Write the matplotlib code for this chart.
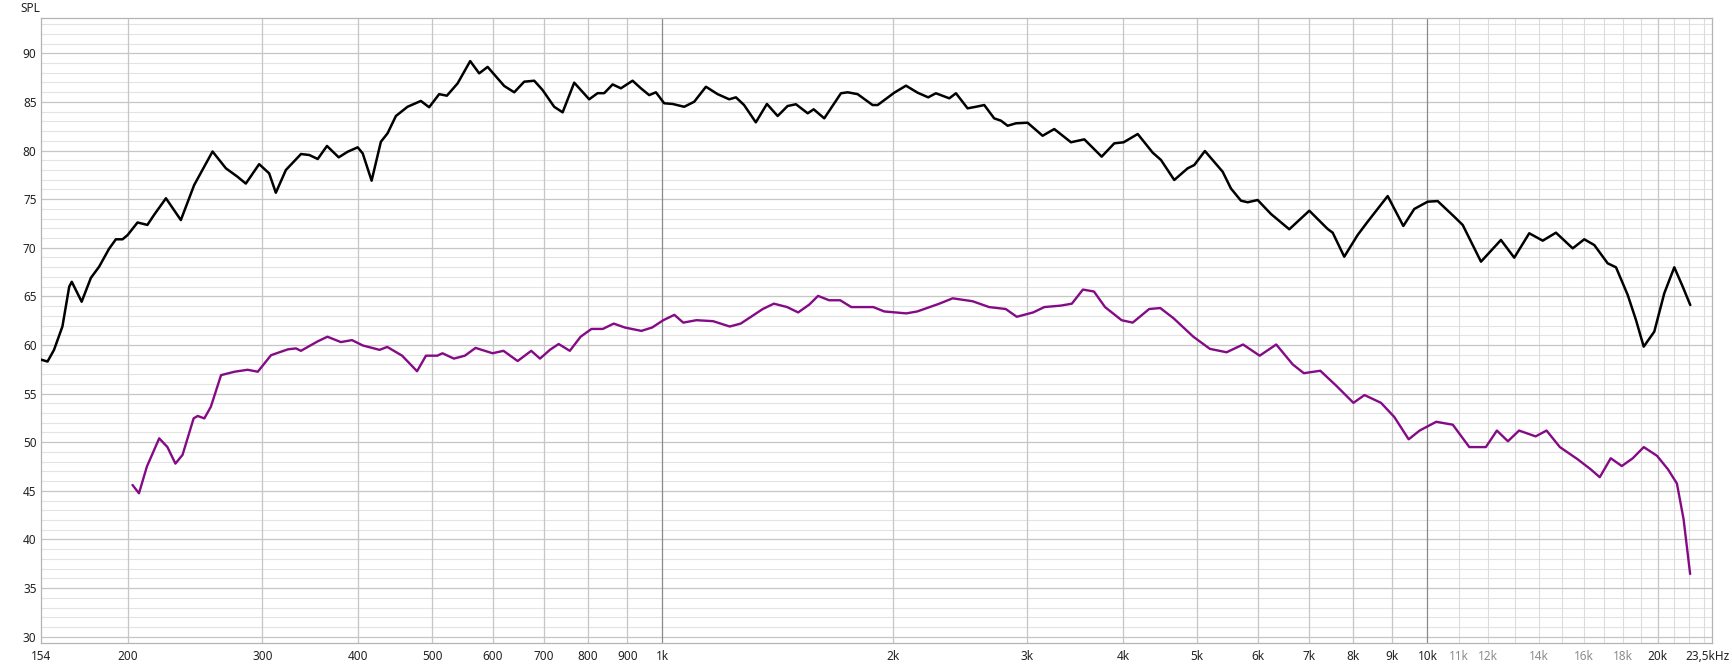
import matplotlib
matplotlib.use('Agg')
import matplotlib.pyplot as plt
import matplotlib.transforms as mtransforms

# Data (frequency in Hz, SPL in dB)
black_freq = [154, 157.2, 160.3, 164.4, 167.8, 169.1, 174.2, 179.1, 183.6, 189.2,
              193.1, 197, 200, 206.1, 212.3, 216.7, 224.5, 234.8, 244.4, 258.3,
              268.9, 278.5, 285.5, 297.2, 306.3, 312.5, 322.1, 337.1, 345.6, 354.5,
              364.5, 377.6, 388, 399.8, 405.9, 416.9, 428.7, 437.4, 448.5, 464.5,
              483.5, 495.7, 510.9, 522.9, 540, 560.9, 576.3, 591.1, 621.4, 640.4,
              659.9, 680.1, 697.5, 722.2, 740.8, 767.1, 802.5, 823.1, 839.6, 861.1,
              882.8, 914.4, 937.6, 961.3, 980.9, 1005.7, 1031.4, 1068.1, 1100.8, 1140.3,
              1181, 1223, 1248, 1279, 1325, 1370, 1415, 1458, 1495, 1549,
              1577, 1628, 1712, 1747, 1800, 1883, 1912, 2010, 2082, 2156,
              2226, 2278, 2372, 2420, 2506, 2570, 2635, 2715, 2771, 2827,
              2899, 3002, 3141, 3253, 3421, 3561, 3752, 3897, 4009, 4182,
              4375, 4485, 4668, 4860, 4958, 5119, 5400, 5536, 5706, 5823,
              6000, 6246, 6599, 7009, 7407, 7520, 7786, 8106, 8354, 8874,
              9301, 9613, 10008, 10314, 10843, 11122, 11750, 12477, 12987, 13587,
              14149, 14724, 15486, 16034, 16525, 17204, 17641, 18274, 18734, 19175,
              19794, 20400, 21024, 21564, 22060]
black_spl = [58.5, 58.3, 59.5, 61.9, 66.0, 66.5, 64.45, 66.9, 68.05, 69.9,
             70.87, 70.87, 71.3, 72.6, 72.35, 73.4, 75.09, 72.85, 76.45, 79.9,
             78.17, 77.3, 76.6, 78.6, 77.65, 75.66, 78.0, 79.64, 79.54, 79.13,
             80.47, 79.3, 79.88, 80.33, 79.7, 76.9, 80.9, 81.77, 83.55, 84.5,
             85.1, 84.45, 85.8, 85.64, 86.9, 89.2, 87.94, 88.6, 86.64, 85.99,
             87.08, 87.18, 86.22, 84.5, 83.93, 86.98, 85.27, 85.9, 85.9, 86.8,
             86.4, 87.18, 86.4, 85.7, 85.99, 84.86, 84.79, 84.5, 85.02, 86.56,
             85.8, 85.27, 85.47, 84.68, 82.9, 84.79, 83.55, 84.58, 84.76, 83.83,
             84.24, 83.31, 85.89, 85.99, 85.8, 84.68, 84.68, 85.95, 86.67, 85.95,
             85.47, 85.89, 85.37, 85.89, 84.34, 84.5, 84.68, 83.31, 83.07, 82.55,
             82.8, 82.86, 81.52, 82.21, 80.85, 81.15, 79.37, 80.74, 80.85, 81.7,
             79.78, 79.03, 76.97, 78.17, 78.51, 79.95, 77.82, 76.1, 74.84, 74.68,
             74.91, 73.47, 71.9, 73.81, 71.93, 71.55, 69.08, 71.31, 72.68, 75.32,
             72.24, 73.99, 74.74, 74.8, 73.19, 72.34, 68.57, 70.8, 68.98, 71.49,
             70.73, 71.55, 69.94, 70.87, 70.28, 68.4, 67.99, 65.14, 62.57, 59.83,
             61.37, 65.32, 67.99, 66.0, 64.11]

purple_freq = [203, 207, 212, 220, 225.5, 231, 236, 244, 247, 252,
               257, 265, 276, 287, 296, 308, 324, 332, 337, 354,
               365, 380, 393, 406, 427, 437, 457, 478, 491, 508,
               516, 534, 552, 570, 600, 620, 647, 674, 692, 713,
               732, 757, 782, 808, 836, 864, 893, 939, 970, 1003,
               1037, 1065, 1108, 1165, 1225, 1266, 1353, 1399, 1456, 1505,
               1556, 1598, 1652, 1708, 1766, 1887, 1950, 2084, 2154, 2302,
               2396, 2544, 2674, 2811, 2906, 3053, 3157, 3318, 3430, 3546,
               3666, 3790, 3984, 4119, 4329, 4476, 4658, 4944, 5197, 5464,
               5742, 6036, 6345, 6668, 6894, 7245, 7615, 8004, 8275, 8697,
               9051, 9452, 9770, 10270, 10794, 11344, 11924, 12326, 12742, 13177,
               13850, 14313, 14898, 15715, 16355, 16798, 17364, 17952, 18554, 19179,
               19959, 20633, 21190, 21618, 22050]
purple_spl = [45.6, 44.75, 47.5, 50.4, 49.5, 47.8, 48.7, 52.45, 52.7, 52.45,
              53.65, 56.9, 57.25, 57.45, 57.25, 58.95, 59.55, 59.65, 59.4, 60.35,
              60.85, 60.3, 60.5, 59.95, 59.5, 59.8, 58.9, 57.3, 58.9, 58.9,
              59.15, 58.6, 58.9, 59.7, 59.15, 59.4, 58.35, 59.4, 58.6, 59.5,
              60.1, 59.4, 60.85, 61.65, 61.65, 62.2, 61.8, 61.45, 61.8, 62.55,
              63.1, 62.3, 62.55, 62.45, 61.9, 62.2, 63.7, 64.25, 63.9, 63.35,
              64.15, 65.05, 64.6, 64.6, 63.9, 63.9, 63.45, 63.25, 63.45, 64.25,
              64.8, 64.5, 63.9, 63.7, 62.9, 63.35, 63.9, 64.05, 64.25, 65.7,
              65.5, 63.9, 62.55, 62.3, 63.7, 63.8, 62.75, 60.85, 59.6, 59.25,
              60.05, 58.9, 60.05, 58.0, 57.1, 57.35, 55.75, 54.05, 54.85, 54.05,
              52.6, 50.3, 51.2, 52.1, 51.8, 49.5, 49.5, 51.2, 50.1, 51.2,
              50.6, 51.2, 49.5, 48.25, 47.2, 46.4, 48.35, 47.55, 48.35, 49.5,
              48.6, 47.2, 45.75, 42.1, 36.45]

x_ticks = [154, 200, 300, 400, 500, 600, 700, 800, 900, 1000, 2000, 3000, 4000,
           5000, 6000, 7000, 8000, 9000, 10000, 11000, 12000, 14000, 16000,
           18000, 20000, 23500]
x_labels = ['154', '200', '300', '400', '500', '600', '700', '800', '900', '1k',
            '2k', '3k', '4k', '5k', '6k', '7k', '8k', '9k', '10k', '11k', '12k',
            '14k', '16k', '18k', '20k', '23,5kHz']
gray_labels = ['11k', '12k', '14k', '16k', '18k']
y_ticks = [30, 35, 40, 45, 50, 55, 60, 65, 70, 75, 80, 85, 90]

plt.rcParams['font.family'] = ['Noto Sans', 'DejaVu Sans']

W, H = 1732, 666
fig = plt.figure(figsize=(W / 100, H / 100), dpi=100)
ax = fig.add_axes([40.7 / W, (H - 642.7) / H, (1712 - 40.7) / W, (642.7 - 18.3) / H])

ax.set_xscale('log')
ax.set_xlim(154, 23550)
ax.set_ylim(29.38, 93.6)

# Grid
for db in range(30, 94):
    if db % 5 == 0:
        ax.axhline(db, color='#c6c6c6', lw=0.9, zorder=1)
    else:
        ax.axhline(db, color='#e3e3e3', lw=0.8, zorder=0)

v_lines = list(range(200, 1000, 100)) + list(range(2000, 10000, 1000)) + [20000]
for f in v_lines:
    ax.axvline(f, color='#c6c6c6', lw=0.9, zorder=1)
for f in [1000, 10000]:
    ax.axvline(f, color='#8a8a8a', lw=0.9, zorder=1)
for f in list(range(11000, 20000, 1000)) + [21000, 22000, 23000]:
    ax.axvline(f, color='#dcdcdc', lw=0.8, zorder=0.5)

# Curves
ax.plot(black_freq, black_spl, color='black', lw=1.8, zorder=3,
        solid_joinstyle='round', solid_capstyle='round')
ax.plot(purple_freq, purple_spl, color='#850a85', lw=1.7, zorder=3,
        solid_joinstyle='round', solid_capstyle='round')

# Ticks
ax.set_xticks(x_ticks)
ax.set_xticklabels(x_labels)
ax.xaxis.set_minor_locator(matplotlib.ticker.NullLocator())
ax.set_yticks(y_ticks)
ax.tick_params(axis='both', length=0, labelsize=8.5, labelcolor='#222222')
ax.tick_params(axis='x', pad=5)
ax.tick_params(axis='y', pad=3)
for lbl in ax.get_xticklabels():
    if lbl.get_text() in gray_labels:
        lbl.set_color('#8c8c8c')
    if lbl.get_text() == '23,5kHz':
        lbl.set_transform(lbl.get_transform() +
                          mtransforms.ScaledTranslation(-4 / 100, 0, fig.dpi_scale_trans))

for s in ax.spines.values():
    s.set_color('#b4b4b4')
    s.set_linewidth(0.9)

fig.text(20 / W, 1 - 9 / H, 'SPL', fontsize=8.5, color='#222222', va='center', ha='left')

fig.savefig('out.png', dpi=100, facecolor='white')
